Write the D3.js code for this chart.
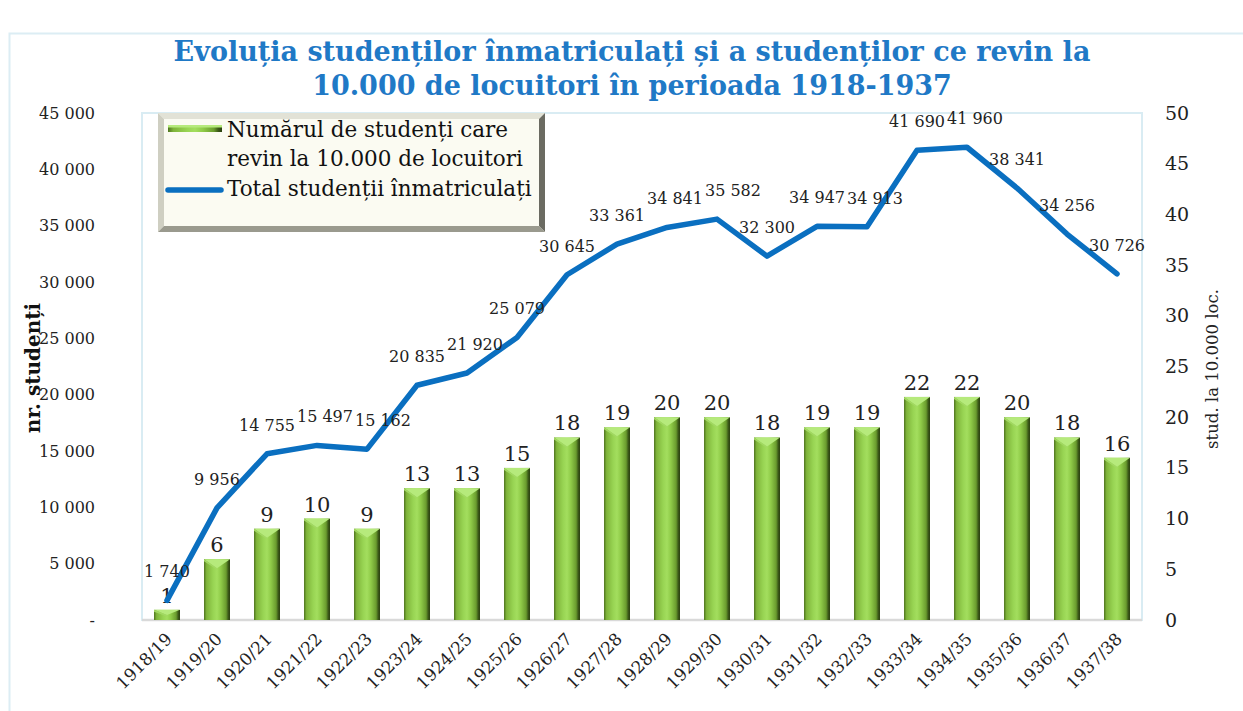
<!DOCTYPE html>
<html><head><meta charset="utf-8">
<script src="https://cdn.jsdelivr.net/npm/d3@7"></script>
<style>
html,body{margin:0;padding:0;background:#fff;}
svg{display:block;font-family:"DejaVu Serif",serif;}
</style></head>
<body>
<svg id="chart" width="1243" height="711"></svg>
<script>
const categories = ["1918/19","1919/20","1920/21","1921/22","1922/23","1923/24","1924/25","1925/26","1926/27","1927/28","1928/29","1929/30","1930/31","1931/32","1932/33","1933/34","1934/35","1935/36","1936/37","1937/38"];
const perTenThousand = [1,6,9,10,9,13,13,15,18,19,20,20,18,19,19,22,22,20,18,16];
const totalStudents = [1740,9956,14755,15497,15162,20835,21920,25079,30645,33361,34841,35582,32300,34947,34913,41690,41960,38341,34256,30726];
const leftTicks = [0,5000,10000,15000,20000,25000,30000,35000,40000,45000];
const rightTicks = [0,5,10,15,20,25,30,35,40,45,50];
const titleLines = ["Evoluția studenților înmatriculați și a studenților ce revin la","10.000 de locuitori în perioada 1918-1937"];
const legendBarText = ["Numărul de studenți care","revin la 10.000 de locuitori"];
const legendLineText = "Total studenții înmatriculați";

const svg = d3.select("#chart");
const defs = svg.append("defs");
const plot = {left:142, right:1142, top:113, bottom:620};

// outer chart border
svg.append("rect").attr("x",9.5).attr("y",33.5).attr("width",1300).attr("height",800)
  .attr("fill","none").attr("stroke","#dcedf4").attr("stroke-width",2);

// title
svg.append("g").selectAll("text").data(titleLines).join("text")
  .attr("x",632).attr("y",(d,i)=>61+i*34).attr("text-anchor","middle")
  .attr("font-weight","bold").attr("font-size",27).attr("fill","#1f79c6").text(d=>d);

const x = d3.scaleBand().domain(categories).range([plot.left,plot.right]).paddingInner(0.48).paddingOuter(0.24);
const yL = d3.scaleLinear().domain([0,45000]).range([plot.bottom,plot.top]);
const yR = d3.scaleLinear().domain([0,50]).range([plot.bottom,plot.top]);

// plot area border
svg.append("rect").attr("x",plot.left).attr("y",plot.top).attr("width",plot.right-plot.left).attr("height",plot.bottom-plot.top)
  .attr("fill","none").attr("stroke","#d9ecf3").attr("stroke-width",2);
svg.append("line").attr("x1",plot.left).attr("x2",plot.right).attr("y1",plot.bottom).attr("y2",plot.bottom)
  .attr("stroke","#d9d9d9").attr("stroke-width",2.5);

// bar gradient
const g = defs.append("linearGradient").attr("id","barG").attr("x1","0").attr("x2","1").attr("y1","0").attr("y2","0");
[[0,"#4f7420"],[0.1,"#7fb43a"],[0.35,"#98d453"],[0.5,"#a3de5e"],[0.65,"#8fcb48"],[0.85,"#6a9c2e"],[0.93,"#3c5a18"],[1,"#2a3f10"]]
  .forEach(s=>g.append("stop").attr("offset",s[0]).attr("stop-color",s[1]));

// bars
const bw = x.bandwidth();
const bars = svg.append("g").selectAll("g").data(categories).join("g");
bars.append("rect").attr("x",d=>x(d)).attr("y",(d,i)=>yR(perTenThousand[i]))
  .attr("width",bw).attr("height",(d,i)=>yR(0)-yR(perTenThousand[i])).attr("fill","url(#barG)");
bars.append("path").attr("d",(d,i)=>{
  const x0=x(d), y0=yR(perTenThousand[i]), h=Math.min(9,(yR(0)-y0)*0.5);
  return `M${x0},${y0}L${x0+bw},${y0}L${x0+bw/2},${y0+h}Z`;
}).attr("fill","#b6ea7c");
bars.append("path").attr("d",(d,i)=>{
  const x0=x(d), y0=yR(perTenThousand[i]), h=Math.min(9,(yR(0)-y0)*0.5);
  return `M${x0},${y0}L${x0+bw/2},${y0+h}L${x0+bw/2},${y0+h+1.5}L${x0},${y0+2}Z`;
}).attr("fill","#a2d863");

// bar labels
svg.append("g").selectAll("text").data(categories).join("text")
  .attr("x",d=>x(d)+bw/2).attr("y",(d,i)=>yR(perTenThousand[i])-7)
  .attr("text-anchor","middle").attr("font-size",21).attr("fill","#222").text((d,i)=>perTenThousand[i]);

// line
const line = d3.line().x((d,i)=>x(categories[i])+bw/2).y(d=>yL(d));
svg.append("path").datum(totalStudents).attr("d",line).attr("fill","none")
  .attr("stroke","#0a6fc0").attr("stroke-width",5.5).attr("stroke-linejoin","round").attr("stroke-linecap","round");

const fmt = v => d3.format(",")(v).replace(/,/g," ");
const lineLabels = svg.append("g").selectAll("text").data(totalStudents).join("text")
  .attr("x",(d,i)=>x(categories[i])+bw/2).attr("y",d=>yL(d)-23)
  .attr("text-anchor","middle").attr("font-size",16).attr("fill","#222").text(d=>fmt(d));
// nudge labels right if they collide with the previous one
let prev = null;
lineLabels.each(function(){
  const b = this.getBBox();
  if (prev && b.x < prev.x + prev.width + 2 && b.y < prev.y + prev.height && b.y + b.height > prev.y) {
    const shift = prev.x + prev.width + 2 - b.x;
    d3.select(this).attr("x", +d3.select(this).attr("x") + shift);
  }
  prev = this.getBBox();
});

// left axis
const axL = svg.append("g").attr("transform",`translate(${plot.left-47},0)`)
  .call(d3.axisLeft(yL).tickValues(leftTicks).tickSize(0).tickPadding(0).tickFormat(d=>d===0?"-":fmt(d)));
axL.select(".domain").remove();
axL.selectAll("text").attr("font-family","DejaVu Serif").attr("font-size",16).attr("fill","#222");

// right axis
const axR = svg.append("g").attr("transform",`translate(${plot.right+23},0)`)
  .call(d3.axisRight(yR).tickValues(rightTicks).tickSize(0).tickPadding(0));
axR.select(".domain").remove();
axR.selectAll("text").attr("font-family","DejaVu Serif").attr("font-size",19).attr("fill","#222");

// x axis labels
const axX = svg.append("g").attr("transform",`translate(0,${plot.bottom})`)
  .call(d3.axisBottom(x).tickSize(0).tickPadding(0));
axX.select(".domain").remove();
axX.selectAll("text").attr("font-family","DejaVu Serif").attr("font-size",17).attr("fill","#222")
  .attr("text-anchor","end").attr("transform","translate(2,16) rotate(-45)").attr("dy","0.35em");

// axis titles
svg.append("text").attr("transform","translate(40,368) rotate(-90)").attr("text-anchor","middle")
  .attr("font-size",20).attr("font-weight","bold").attr("fill","#111").text("nr. studenți");
svg.append("text").attr("transform","translate(1218,369) rotate(-90)").attr("text-anchor","middle")
  .attr("font-size",16.5).attr("fill","#222").text("stud. la 10.000 loc.");

// legend
const L = {x:158,y:113,w:387,h:119,b:6};
const lg = svg.append("g");
lg.append("rect").attr("x",L.x).attr("y",L.y).attr("width",L.w).attr("height",L.h).attr("fill","#fbfbf2");
lg.append("path").attr("d",`M${L.x},${L.y}L${L.x+L.w},${L.y}L${L.x+L.w-L.b},${L.y+L.b}L${L.x+L.b},${L.y+L.b}Z`).attr("fill","#e2e2d6");
lg.append("path").attr("d",`M${L.x},${L.y}L${L.x+L.b},${L.y+L.b}L${L.x+L.b},${L.y+L.h-L.b}L${L.x},${L.y+L.h}Z`).attr("fill","#cfcfc2");
lg.append("path").attr("d",`M${L.x+L.w},${L.y}L${L.x+L.w},${L.y+L.h}L${L.x+L.w-L.b},${L.y+L.h-L.b}L${L.x+L.w-L.b},${L.y+L.b}Z`).attr("fill","#6b6b62");
lg.append("path").attr("d",`M${L.x},${L.y+L.h}L${L.x+L.w},${L.y+L.h}L${L.x+L.w-L.b},${L.y+L.h-L.b}L${L.x+L.b},${L.y+L.h-L.b}Z`).attr("fill","#9a9a8e");
lg.append("rect").attr("x",168).attr("y",125).attr("width",54).attr("height",7).attr("fill","url(#barG)");
lg.append("rect").attr("x",168).attr("y",125).attr("width",54).attr("height",2.5).attr("fill","#b6ea7c");
lg.append("line").attr("x1",168).attr("x2",221).attr("y1",190).attr("y2",190).attr("stroke","#0a6fc0").attr("stroke-width",5.5).attr("stroke-linecap","round");
lg.selectAll("text.b").data(legendBarText).join("text").attr("class","b")
  .attr("x",227).attr("y",(d,i)=>137+i*29).attr("font-size",21.5).attr("fill","#111").text(d=>d);
lg.append("text").attr("x",227).attr("y",196).attr("font-size",21.5).attr("fill","#111").text(legendLineText);
</script>
</body></html>
